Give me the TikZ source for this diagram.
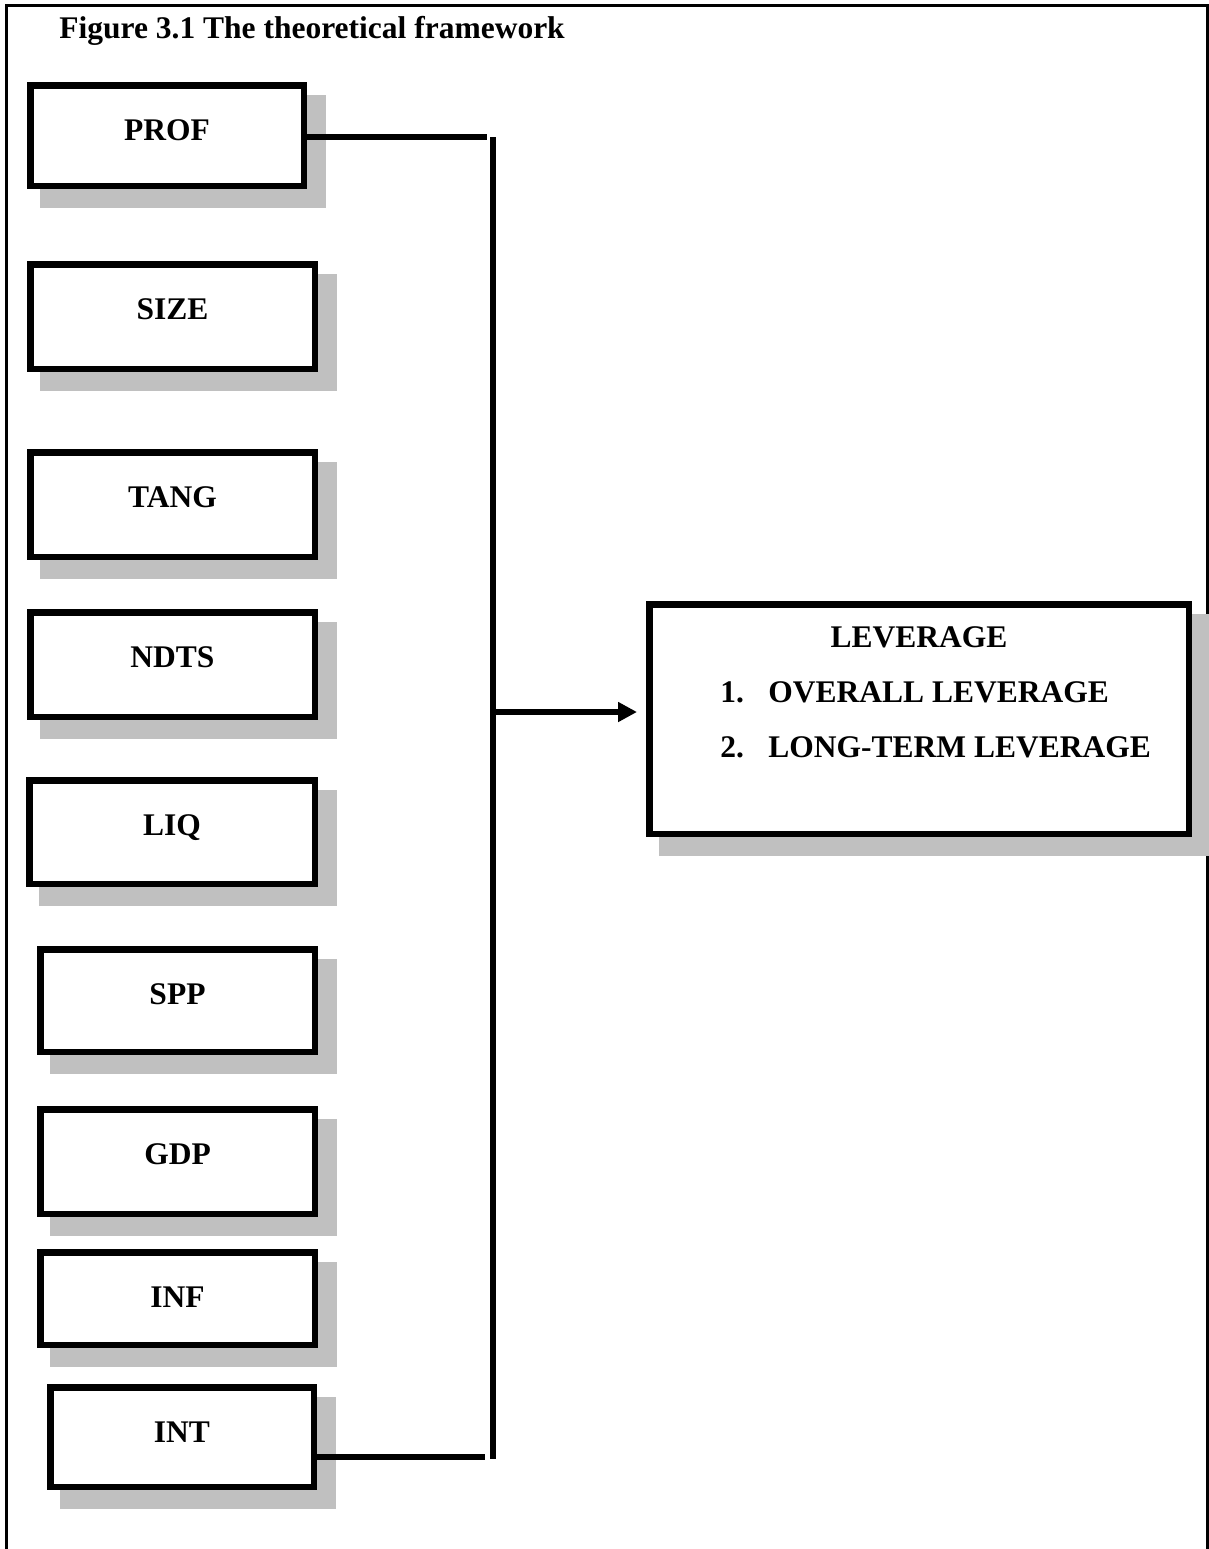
\documentclass[tikz,border=0pt]{standalone}
\usepackage{fontspec}
\setmainfont{Liberation Serif}
\usetikzlibrary{arrows.meta,backgrounds}
\definecolor{shadowgray}{RGB}{192,192,192}
\tikzset{
  varbox/.style={draw=black, line width=3.25pt, fill=white, inner sep=0pt, rectangle},
  lbl/.style={font=\fontsize{15.75pt}{19pt}\selectfont\bfseries, inner sep=0pt},
  conn/.style={line width=3.25pt},
  frameline/.style={line width=1.25pt},
  shade/.style={fill=shadowgray},
}
\newcommand\mybox[6]{%
  \node[varbox, minimum width=#4*0.5pt, minimum height=#5*0.5pt] (#1) at (#2,#3) {};
  \node[lbl, anchor=base] (#1t) at ([yshift=-29.4pt]#1.north) {#6};
}
\begin{document}
\begin{tikzpicture}[x=0.5pt,y=-0.5pt]
\useasboundingbox (0,0) rectangle (1209,1549);
% title
\node[lbl, anchor=base west] (title) at (59,38.5) {Figure 3.1 The theoretical framework};
% boxes
\mybox{prof}{167}{135.5}{273.5}{100.5}{PROF}
\mybox{size}{172.5}{316.5}{284.5}{104.5}{SIZE}
\mybox{tang}{172.5}{504.5}{284.5}{104.5}{TANG}
\mybox{ndts}{172.5}{664.5}{284.5}{104.5}{NDTS}
\mybox{liq}{172}{832}{285.5}{103.5}{LIQ}
\mybox{spp}{177.5}{1000.5}{274.5}{102.5}{SPP}
\mybox{gdp}{177.5}{1161.5}{274.5}{104.5}{GDP}
\mybox{inf}{177.5}{1298.5}{274.5}{92.5}{INF}
\mybox{int}{182}{1437}{263.5}{99.5}{INT}
\node[varbox, minimum width=539.5*0.5pt, minimum height=229.5*0.5pt] (lev) at (919,719) {};
\node[lbl, anchor=base] (levh) at (919,647) {LEVERAGE};
\node[lbl, anchor=base west] (lev1n) at (720,702) {1.};
\node[lbl, anchor=base west] (lev1) at (768,702) {OVERALL LEVERAGE};
\node[lbl, anchor=base west] (lev2n) at (720,757) {2.};
\node[lbl, anchor=base west] (lev2) at (768,757) {LONG-TERM LEVERAGE};
% connectors
\coordinate (bt) at (493,137);
\coordinate (bb) at (493,1459);
\coordinate (ht) at (487,137);
\coordinate (hb) at (485,1457);
\coordinate (am) at (493,712);
\coordinate (at) at (637,712);
\draw[conn] (prof.east |- ht) -- (ht);
\draw[conn] (int.east |- hb) -- (hb);
\draw[conn] (bt) -- (bb);
\draw[conn, -{Triangle[length=9.5pt,width=9.5pt]}] (am) -- (at);
% background: frame and shadows
\begin{scope}[on background layer]
  \draw[frameline] (6.5,1549) -- (6.5,5.5) -- (1207.5,5.5) -- (1207.5,1549);
  \foreach \n in {prof,size,tang,ndts,liq,spp,gdp,inf,int,lev}
    \fill[shade] ([shift={(6.375pt,-6.375pt)}]\n.north west) rectangle ([shift={(9.625pt,-9.625pt)}]\n.south east);
\end{scope}
\end{tikzpicture}
\end{document}
